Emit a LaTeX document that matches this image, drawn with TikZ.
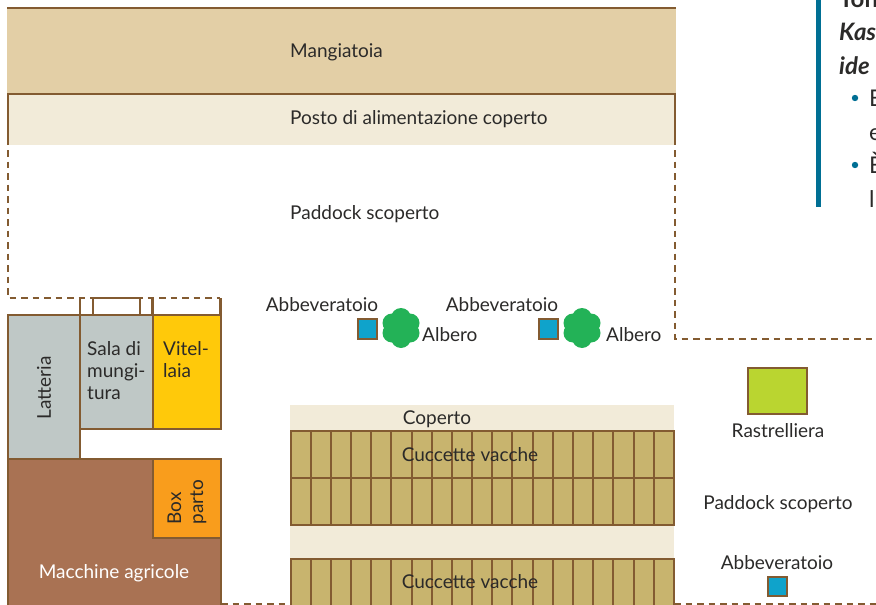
\documentclass[tikz,border=0pt]{standalone}
\usepackage{fontspec}
\setmainfont{Lato}
\definecolor{bordo}{HTML}{835B31}
\definecolor{mangime}{HTML}{E3CFA6}
\definecolor{crema}{HTML}{F2EBD9}
\definecolor{grigio}{HTML}{BFC8C6}
\definecolor{giallo}{HTML}{FFC90A}
\definecolor{arancio}{HTML}{F99D1C}
\definecolor{marrone}{HTML}{A97253}
\definecolor{paglia}{HTML}{C8B46E}
\definecolor{acqua}{HTML}{0FA3CB}
\definecolor{fieno}{HTML}{BAD530}
\definecolor{albero}{HTML}{23B257}
\definecolor{barra}{HTML}{006F94}
\definecolor{testo}{HTML}{2B2A29}
\tikzset{
lab/.style={font=\fontsize{19}{22}\selectfont,text=testo,inner sep=0pt,anchor=base},
sx/.style={lab,anchor=base west},
muro/.style={draw=bordo,line width=2pt},
recinto/.style={draw=bordo,line width=1.8pt,dash pattern=on 6.5pt off 5pt},
vasca/.style={muro,fill=acqua},
titolo/.style={sx,font=\fontsize{24}{22}\selectfont\bfseries\itshape},
riga/.style={sx,font=\fontsize{23}{22}\selectfont},
}
\newcommand{\chioma}[1]{\fill[albero] #1 +(0,-10) circle (10) +(-9,-5) circle (9.5) +(9,-5) circle (9.5) +(-9,5) circle (9.5) +(9,5) circle (9.5) +(0,10) circle (10);}
\begin{document}
\begin{tikzpicture}[x=1pt,y=-1pt]
\useasboundingbox (0,0) rectangle (876,605);
\clip (0,0) rectangle (876,605);
\fill[mangime] (7,8) rectangle (676,94);
\draw[bordo,line width=2.5pt] (7,8) -- (676,8);
\fill[crema] (8,94) rectangle (675,145);
\draw[muro] (8,145) -- (8,94) -- (675,94) -- (675,145);
\draw[recinto] (8,150) -- (8,298) -- (220,298);
\draw[recinto] (675,150) -- (675,339) -- (876,339);
\draw[recinto] (221,604) -- (290,604);
\draw[recinto] (674,604) -- (876,604);
\draw[muro,line width=2.6pt] (80,298) -- (80,315);
\draw[muro,line width=2.6pt] (152.5,298) -- (152.5,315);
\draw[muro,line width=2.6pt] (220.5,298) -- (220.5,315);
\draw[muro] (93,314) -- (93,298) -- (140,298) -- (140,314);
\draw[muro,fill=grigio] (8,314.5) rectangle (79.5,459);
\draw[muro,fill=grigio] (79.5,314.5) rectangle (152.5,429);
\draw[muro,fill=giallo] (152.5,314.5) rectangle (220.5,429);
\draw[muro,fill=marrone] (8,459) rectangle (220.5,606);
\draw[muro,fill=arancio] (153,459) rectangle (220.5,538);
\fill[crema] (290,405) rectangle (674,605);
\foreach \y/\h in {431/47,478/47,558.7/48} {
\foreach \i in {0,...,18} {
\draw[muro,fill=paglia] (290.5+20.18*\i,\y) rectangle +(20.18,\h);
}
}
\draw[muro,fill=fieno] (748,368) rectangle (807,414);
\draw[vasca] (358,319) rectangle (377,339);
\draw[vasca] (539,319) rectangle (558,339);
\draw[vasca] (768,577) rectangle (787,596);
\chioma{(401,328)}
\chioma{(582,328)}
\fill[barra] (815.5,0) rectangle (821,207);
\fill[barra] (855,98) circle (3.2);
\fill[barra] (855,165) circle (3.2);
\node[sx] (mangiatoia) at (290,57) {Mangiatoia};
\node[sx] (posto) at (290,124) {Posto di alimentazione coperto};
\node[sx] (paddock) at (290,219) {Paddock scoperto};
\node[lab] (abbA) at (322,311) {Abbeveratoio};
\node[lab] (abbB) at (502,311) {Abbeveratoio};
\node[sx] (alberoA) at (422,341) {Albero};
\node[sx] (alberoB) at (606,341) {Albero};
\node[lab,rotate=90,anchor=center] (latteria) at (44,388) {Latteria};
\node[lab,anchor=north west,align=left] (sala) at (87,341) {Sala di\\mungi-\\tura};
\node[lab,anchor=north west,align=left] (vitel) at (163,341) {Vitel-\\laia};
\node[lab,rotate=90,align=left,anchor=center] (box) at (187,502) {Box\\parto};
\node[lab,text=white] (macchine) at (114,578) {Macchine agricole};
\node[lab] (coperto) at (437,424) {Coperto};
\node[lab] (cuccA) at (470,461) {Cuccette vacche};
\node[lab] (cuccB) at (470,588) {Cuccette vacche};
\node[lab] (rastr) at (778,437) {Rastrelliera};
\node[lab] (paddockB) at (778,509) {Paddock scoperto};
\node[lab] (abbC) at (777,569) {Abbeveratoio};
\node[titolo] (kas) at (839,40) {Kas};
\node[titolo] (ide) at (839,74) {ide};
\node[titolo,font=\fontsize{24}{22}\selectfont\bfseries] (ton) at (839,7) {Ton};
\node[riga] (rigaA) at (869,106) {E};
\node[riga] (rigaB) at (869,140) {e};
\node[riga] (rigaC) at (869,173) {È};
\node[riga] (rigaD) at (869,207) {l};
\end{tikzpicture}
\end{document}
